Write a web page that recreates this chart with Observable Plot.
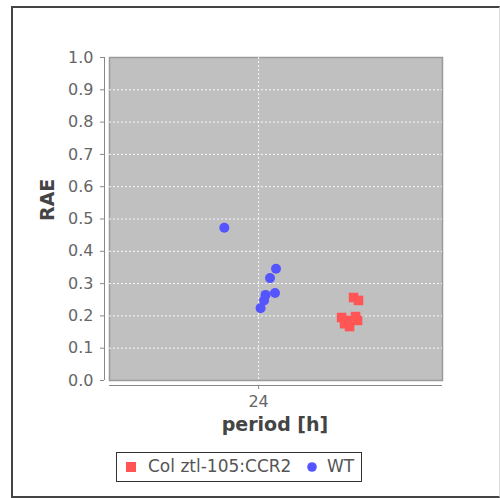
<!DOCTYPE html>
<html>
<head>
<meta charset="utf-8">
<script src="https://cdn.jsdelivr.net/npm/d3@7"></script>
<script src="https://cdn.jsdelivr.net/npm/@observablehq/plot@0.6"></script>
<style>
  html, body { margin: 0; padding: 0; background: #fff; }
  #page { position: relative; width: 500px; height: 498px; overflow: hidden; font-family: "DejaVu Sans", sans-serif; }
  #border { position: absolute; left: 11px; top: 6px; width: 486px; height: 488px;
    border-left: 2px solid #444; border-top: 2px solid #444; border-bottom: 2px solid #444; border-right: 1px solid #ddd; }
  #chart { position: absolute; left: 0; top: 0; }
  #legend { position: absolute; left: 116px; top: 452px; width: 246px; height: 30px;
    border: 1.5px solid #333; font-size: 17px; color: #555; box-sizing: border-box; background: #fff; }
  #legend > * { position: absolute; }
  #legend span { top: 3px; line-height: 20px; white-space: nowrap; }
</style>
</head>
<body>
<div id="page">
  <div id="border"></div>
  <div id="chart"></div>
  <div id="legend"></div>
</div>
<script>
// Data (period [h], RAE)
const seriesNames = ["Col ztl-105:CCR2", "WT"];
const seriesColors = ["#ff5555", "#5555ff"];
const ztlPeriod = [25.67, 25.79, 25.95, 25.83, 25.73, 25.99, 25.91, 26.01];
const ztlRAE    = [0.195, 0.186, 0.198, 0.167, 0.176, 0.186, 0.257, 0.248];
const wtPeriod  = [23.31, 24.35, 24.23, 24.33, 24.14, 24.11, 24.04];
const wtRAE     = [0.473, 0.346, 0.317, 0.271, 0.265, 0.248, 0.224];
const yTicks = [0, 0.1, 0.2, 0.3, 0.4, 0.5, 0.6, 0.7, 0.8, 0.9, 1.0];
const xTicks = [24];
const xDomain = [21, 27.7];
const yDomain = [0, 1];

const ztl = ztlPeriod.map((p, i) => ({period: p, rae: ztlRAE[i]}));
const wt = wtPeriod.map((p, i) => ({period: p, rae: wtRAE[i]}));

const chart = Plot.plot({
  width: 500,
  height: 450,
  marginLeft: 109,
  marginRight: 58,
  marginTop: 57,
  marginBottom: 70,
  style: {fontFamily: "DejaVu Sans, sans-serif", background: "transparent", overflow: "visible"},
  x: {domain: xDomain, axis: null},
  y: {domain: yDomain, axis: null},
  marks: [
    Plot.frame({fill: "#c0c0c0", stroke: "#9a9a9a", strokeWidth: 1.5}),
    Plot.gridY(yTicks.filter(d => d > 0 && d < 1), {stroke: "#ffffff", strokeOpacity: 0.9, strokeDasharray: "2,2"}),
    Plot.gridX(xTicks, {stroke: "#ffffff", strokeOpacity: 0.9, strokeDasharray: "2,2"}),
    Plot.ruleX([xDomain[0]], {dx: -5, stroke: "#888", strokeWidth: 1}),
    Plot.ruleY([yDomain[0]], {dy: 5, stroke: "#888", strokeWidth: 1}),
    Plot.axisY(yTicks, {tickSize: 4, dx: -5, tickPadding: 7, fontSize: 16, color: "#666", stroke: "#888", tickFormat: d3.format(".1f"), label: null}),
    Plot.axisX(xTicks, {tickSize: 4, dy: 5, tickPadding: 6, fontSize: 16, color: "#666", stroke: "#888", label: null}),
    Plot.text(["RAE"], {frameAnchor: "left", rotate: -90, dx: -62, dy: 2, fontWeight: "bold", fontSize: 19, fill: "#444"}),
    Plot.text(["period [h]"], {frameAnchor: "bottom", dy: 50, dx: -1, fontWeight: "bold", fontSize: 19, fill: "#444"}),
    Plot.dot(ztl, {x: "period", y: "rae", symbol: "square", r: 5.4, fill: seriesColors[0], stroke: "none"}),
    Plot.dot(wt, {x: "period", y: "rae", r: 5, fill: seriesColors[1], stroke: "none"})
  ]
});
document.getElementById("chart").appendChild(chart);

// Legend
const legend = document.getElementById("legend");
legend.innerHTML =
  `<svg style="left:9px;top:9px" width="10" height="10"><rect width="10" height="10" fill="${seriesColors[0]}"/></svg>` +
  `<span style="left:31px">${seriesNames[0]}</span>` +
  `<svg style="left:190px;top:9px" width="10" height="10"><circle cx="5" cy="5" r="4.8" fill="${seriesColors[1]}"/></svg>` +
  `<span style="left:210px">${seriesNames[1]}</span>`;
</script>
</body>
</html>
